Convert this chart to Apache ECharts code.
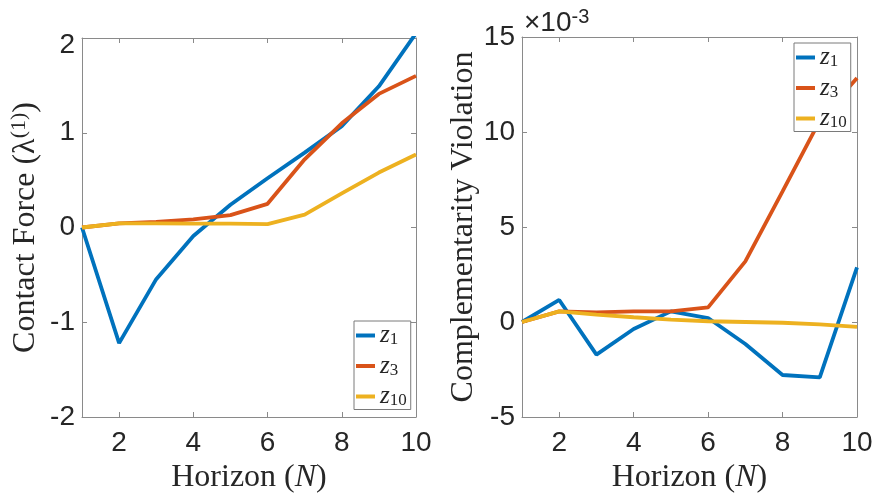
<!DOCTYPE html>
<html>
<head>
<meta charset="utf-8">
<script src="https://cdn.jsdelivr.net/npm/echarts@6/dist/echarts.min.js"></script>
<style>
  html, body { margin: 0; padding: 0; background: #fff; }
  #chart { width: 875px; height: 496px; }
</style>
</head>
<body>
<div id="chart"></div>
<script>
// Horizon lengths N
const horizon = [1, 2, 3, 4, 5, 6, 7, 8, 9, 10];
const xTicks = [2, 4, 6, 8, 10];

// Contact force λ(1) for each warm-start iterate
const forceZ1 = [0, -1.22, -0.545, -0.09, 0.24, 0.52, 0.79, 1.07, 1.49, 2.05];
const forceZ3 = [0, 0.043, 0.06, 0.085, 0.13, 0.25, 0.72, 1.1, 1.41, 1.6];
const forceZ10 = [0, 0.043, 0.043, 0.04, 0.04, 0.035, 0.135, 0.36, 0.58, 0.77];

// Complementarity violation, in units of 1e-3
const violZ1 = [0, 1.16, -1.72, -0.37, 0.56, 0.21, -1.16, -2.79, -2.91, 2.88];
const violZ3 = [0, 0.56, 0.51, 0.56, 0.56, 0.77, 3.19, 6.88, 10.6, 12.84];
const violZ10 = [0, 0.56, 0.39, 0.25, 0.12, 0.04, 0.0, -0.04, -0.12, -0.26];

const seriesNames = ['z1', 'z3', 'z10'];
const subscripts = { z1: '1', z3: '3', z10: '10' };
const colors = ['#0072BD', '#D95319', '#EDB120'];

const axisGray = '#8a8a8a';
const textDark = '#262626';
const sansFont = 'Liberation Sans';
const serifFont = 'Liberation Serif';

function pairs(ys) { return horizon.map((x, i) => [x, ys[i]]); }

function xAxisPair(gridIndex) {
  const base = {
    type: 'value', gridIndex, min: 1, max: 10,
    splitLine: { show: false },
    axisLine: { show: true, onZero: false, lineStyle: { color: axisGray, width: 1 } },
    axisTick: { show: true, inside: true, length: 5, customValues: xTicks, lineStyle: { color: axisGray } },
  };
  return [
    Object.assign({}, base, {
      position: 'bottom',
      axisLabel: { show: true, customValues: xTicks, margin: 12, fontFamily: sansFont, fontSize: 28, color: textDark },
      name: '{a|Horizon (}{i|N}{a|)}',
      nameLocation: 'middle', nameGap: 42,
      nameTextStyle: {
        rich: {
          a: { fontFamily: serifFont, fontSize: 32, color: textDark },
          i: { fontFamily: serifFont, fontSize: 32, fontStyle: 'italic', color: textDark }
        }
      }
    }),
    Object.assign({}, base, { position: 'top', axisLabel: { show: false } })
  ];
}

function yAxisPair(gridIndex, min, max, interval, name, rich, gap, labelFormatter) {
  const base = {
    type: 'value', gridIndex, min, max, interval,
    splitLine: { show: false },
    axisLine: { show: true, onZero: false, lineStyle: { color: axisGray, width: 1 } },
    axisTick: { show: true, inside: true, length: 5, lineStyle: { color: axisGray } },
  };
  return [
    Object.assign({}, base, {
      position: 'left',
      axisLabel: {
        show: true, margin: 7, fontFamily: sansFont, fontSize: 28, color: textDark,
        formatter: labelFormatter,
        rich: { low: { fontFamily: sansFont, fontSize: 28, color: textDark, padding: [14, 0, 0, 0] } }
      },
      name, nameLocation: 'middle', nameGap: gap, nameRotate: 90,
      nameTextStyle: { rich }
    }),
    Object.assign({}, base, { position: 'right', axisLabel: { show: false } })
  ];
}

function makeSeries(dataSets, xAxisIndex, yAxisIndex) {
  return dataSets.map((ys, k) => ({
    name: seriesNames[k], type: 'line', xAxisIndex, yAxisIndex,
    data: pairs(ys), symbol: 'none', clip: true,
    lineStyle: { color: colors[k], width: 3.8 }, itemStyle: { color: colors[k] },
    emphasis: { disabled: true }
  }));
}

const legendText = {
  fontFamily: serifFont, fontSize: 24, color: textDark,
  rich: {
    i: { fontFamily: serifFont, fontSize: 25, fontStyle: 'italic', color: textDark, lineHeight: 26 },
    s: { fontFamily: serifFont, fontSize: 17, color: textDark, lineHeight: 15, verticalAlign: 'bottom' }
  }
};
function legendAt(left, top) {
  return {
    orient: 'vertical', left, top,
    data: seriesNames.map((n, k) => ({ name: n, icon: 'rect', itemStyle: { color: colors[k] } })),
    itemWidth: 19, itemHeight: 4, itemGap: 5,
    padding: [2, 4, 0, 2],
    borderColor: '#7a7a7a', borderWidth: 1, borderRadius: 0, backgroundColor: '#ffffff',
    selectedMode: false,
    formatter: (n) => '{i|z}{s|' + subscripts[n] + '}',
    textStyle: legendText
  };
}

const leftY = yAxisPair(0, -2, 2, 1,
  '{a|Contact Force (λ}{sup|(1)}{a|)}',
  {
    a: { fontFamily: serifFont, fontSize: 32, color: textDark },
    sup: { fontFamily: serifFont, fontSize: 22, color: textDark, padding: [0, 0, 14, 0] }
  }, 38,
  (v) => (v === 2 ? '{low|2}' : String(v)));
const rightY = yAxisPair(1, -5, 15, 5,
  '{a|Complementarity Violation}',
  { a: { fontFamily: serifFont, fontSize: 32, color: textDark } }, 40,
  (v) => String(v));

const chart = echarts.init(document.getElementById('chart'), null, { renderer: 'canvas' });
chart.setOption({
  backgroundColor: '#ffffff',
  animation: false,
  grid: [
    { left: 82, right: 459, top: 38, bottom: 79, outerBoundsMode: 'none' },
    { left: 522, right: 18, top: 37, bottom: 79, outerBoundsMode: 'none' }
  ],
  xAxis: [...xAxisPair(0), ...xAxisPair(1)],
  yAxis: [...leftY, ...rightY],
  legend: [legendAt(354, 321), legendAt(794, 43)],
  series: [
    ...makeSeries([forceZ1, forceZ3, forceZ10], 0, 0),
    ...makeSeries([violZ1, violZ3, violZ10], 2, 2)
  ],
  graphic: [{
    type: 'text', left: 524, top: 7,
    style: {
      text: '{a|×10}{b|-3}',
      rich: {
        a: { fontFamily: sansFont, fontSize: 28, fill: textDark, padding: [12, 0, 0, 0] },
        b: { fontFamily: sansFont, fontSize: 20, fill: textDark }
      }
    }
  }]
});
</script>
</body>
</html>
